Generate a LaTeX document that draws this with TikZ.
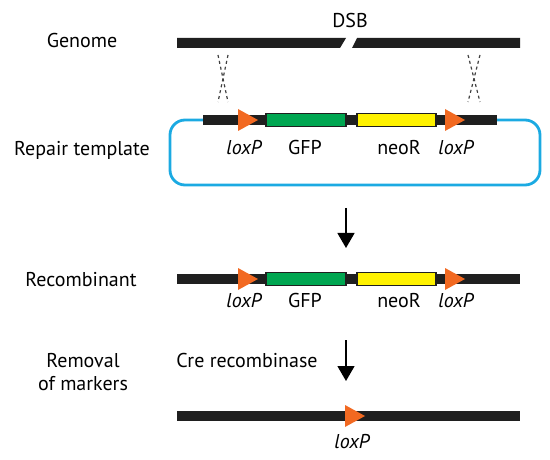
\documentclass[tikz,border=0pt]{standalone}
\usepackage{fontspec}
\setmainfont{PT Sans}
\usetikzlibrary{positioning,arrows.meta}
\definecolor{loxorange}{RGB}{242,105,33}
\definecolor{gfpgreen}{RGB}{0,166,81}
\definecolor{neoyellow}{RGB}{255,242,0}
\definecolor{loopblue}{RGB}{27,170,226}
\tikzset{
  dna/.style={
    fill = black!88,
    draw = none
  },
  gene/.style={
    draw = black!88,
    line width = 1.3pt
  },
  lox/.style={
    fill = loxorange,
    draw = none
  },
  lbl/.style={
    font = \fontsize{20}{23}\selectfont,
    align = center,
    anchor = base,
    inner sep = 0pt
  },
  ilbl/.style={
    font = \fontsize{20}{23}\selectfont\itshape,
    anchor = base,
    inner sep = 0pt
  },
  xover/.style={
    black!75,
    line width = 1.2pt,
    dash pattern = on 3pt off 3pt
  },
  flow/.style={
    line width = 1.4pt,
    -{Triangle[width=17pt,length=15pt]}
  }
}
% loxP triangle: tip x, centre y
\newcommand{\loxp}[2]{\fill[lox] (#1-20,#2-11) -- (#1,#2) -- (#1-20,#2+11) -- cycle;}
\begin{document}
\begin{tikzpicture}[x=1pt, y=-1pt]
    \useasboundingbox (0,0) rectangle (550,460);
    % left column
    \node[lbl] (genome) at (82,48) {Genome};
    \node[lbl] (repair) at (82,156) {Repair template};
    \node[lbl] (recomb) at (81,287) {Recombinant};
    \node[lbl] (removal) at (83,367) {Removal};
    \node[lbl] (markers) at (83,390) {of markers};
    % genome with break
    \node[lbl] (dsb) at (350,28) {DSB};
    \fill[dna] (177,38) -- (346,38) -- (340,48) -- (177,48) -- cycle;
    \fill[dna] (357,38) -- (520,38) -- (520,48) -- (352,48) -- cycle;
    % crossovers
    \draw[xover] (218,55) -- (228,102);
    \draw[xover] (228,55) -- (218,102);
    \draw[xover] (468,55) -- (480,102);
    \draw[xover] (480,55) -- (468,102);
    % repair template
    \draw[loopblue, line width=2.8pt, rounded corners=15pt]
        (203,120) -| (170,185) -| (540,120) -- (497,120);
    \fill[dna] (203,115) rectangle (497,125);
    \filldraw[gene, fill=gfpgreen] (266,113.5) rectangle (346,126.5);
    \filldraw[gene, fill=neoyellow] (357,113.5) rectangle (436,126.5);
    \loxp{258}{120}
    \loxp{465}{120}
    \node[ilbl] (lox1) at (244,155) {loxP};
    \node[lbl] (gfp1) at (305,155) {GFP};
    \node[lbl] (neo1) at (399,155) {neoR};
    \node[ilbl] (lox2) at (456,155) {loxP};
    % first step
    \coordinate (s1a) at (346,208);
    \coordinate (s1b) at (346,248);
    \draw[flow] (s1a) -- (s1b);
    % recombinant
    \fill[dna] (177,274) rectangle (520,284);
    \filldraw[gene, fill=gfpgreen] (266,272.5) rectangle (346,285.5);
    \filldraw[gene, fill=neoyellow] (357,272.5) rectangle (436,285.5);
    \loxp{258}{279}
    \loxp{465}{279}
    \node[ilbl] (lox3) at (244,307) {loxP};
    \node[lbl] (gfp2) at (305,307) {GFP};
    \node[lbl] (neo2) at (399,307) {neoR};
    \node[ilbl] (lox4) at (456,307) {loxP};
    % second step
    \node[lbl] (cre) at (247,367) {Cre recombinase};
    \coordinate (s2a) at (346,340);
    \coordinate (s2b) at (346,381);
    \draw[flow] (s2a) -- (s2b);
    % after removal
    \fill[dna] (177,411) rectangle (520,421);
    \loxp{365}{416}
    \node[ilbl] (lox5) at (352,448) {loxP};
\end{tikzpicture}
\end{document}
